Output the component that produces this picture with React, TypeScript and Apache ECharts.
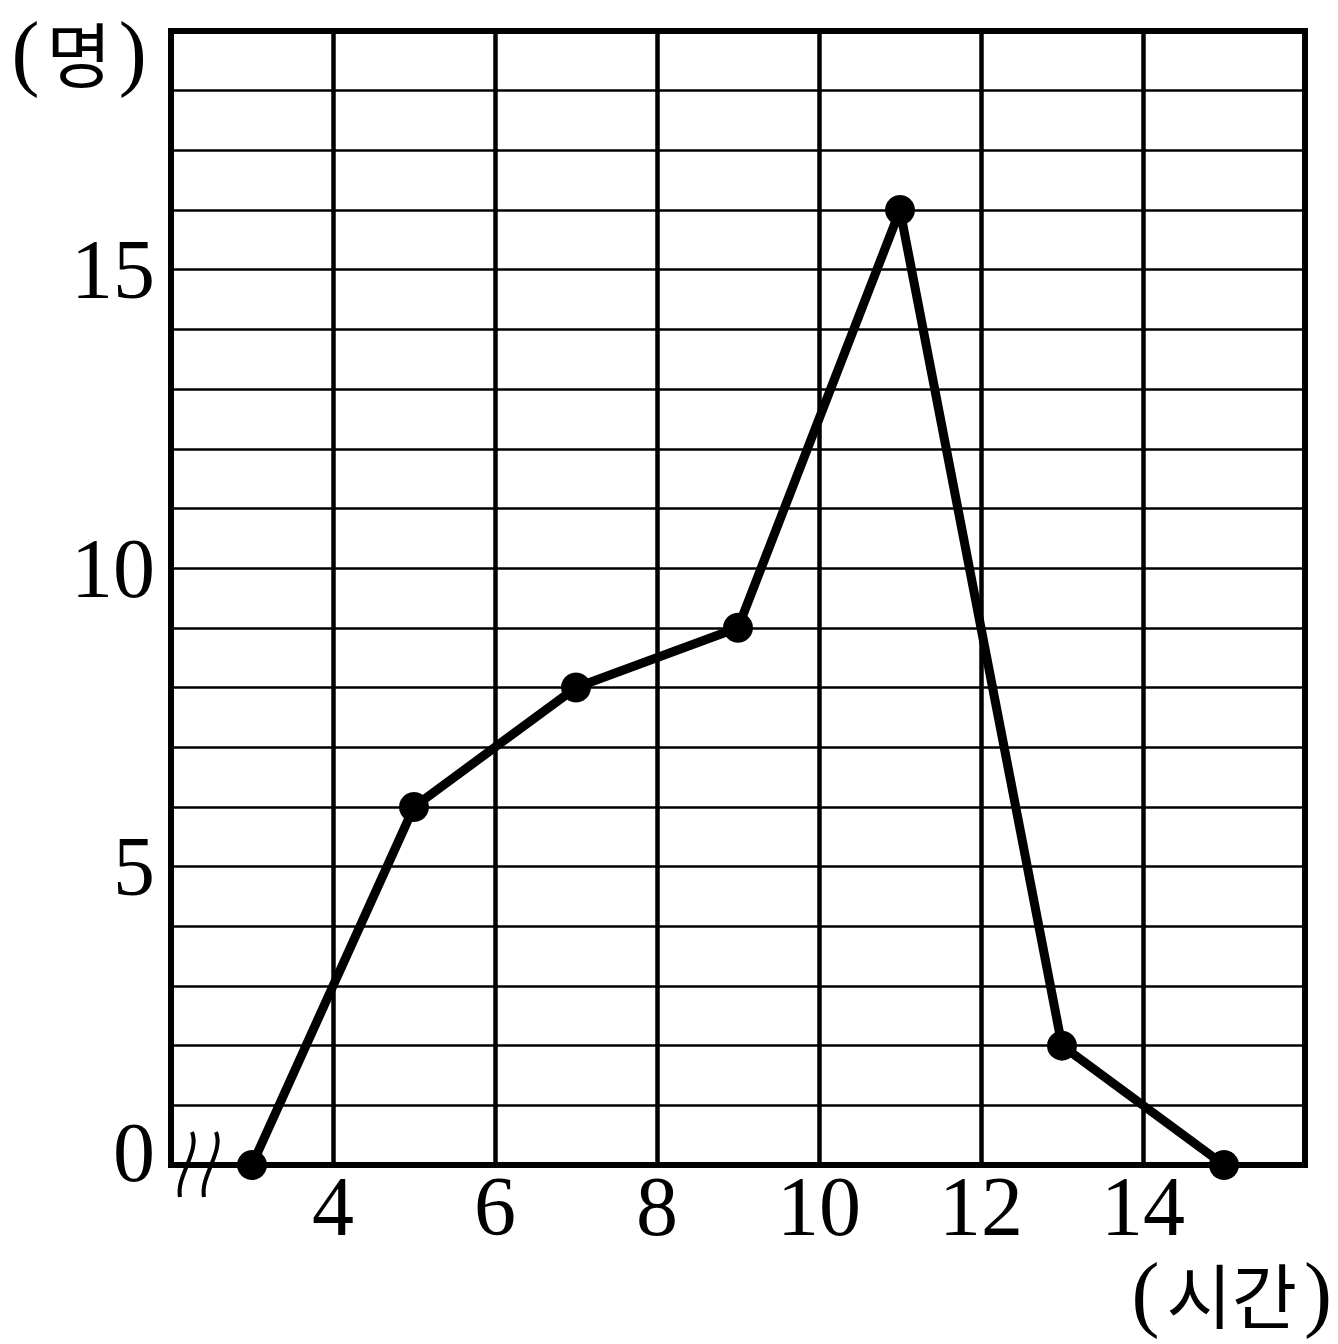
import React, { useEffect, useRef } from "react";
import * as echarts from "echarts";

const hours = [3, 5, 7, 9, 11, 13, 15];
const people = [0, 6, 8, 9, 16, 2, 0];
const xShownLabels = [4, 6, 8, 10, 12, 14];
const yShownLabels = [0, 5, 10, 15];
const yUnit = "명";
const xUnit = "시간";

export default function App() {
  const ref = useRef<HTMLDivElement>(null);
  useEffect(() => {
    document.body.style.margin = "0";
    const chart = echarts.init(ref.current!, null, { renderer: "svg" });
    const serif = "'Liberation Serif', 'DejaVu Serif', serif";
    const kr = "'Noto Sans CJK KR', sans-serif";
    const unitRich = {
      p: { fontSize: 84, fontFamily: serif, color: "#000", lineHeight: 76 },
      k: { fontSize: 71, fontFamily: kr, color: "#000", padding: [0, 7, 0, 7], lineHeight: 76 },
    };
    const wave = (x: number) => ({
      type: "bezierCurve",
      shape: {
        x1: x + 12, y1: 1132,
        cpx1: x + 20, cpy1: 1152,
        cpx2: x - 4, cpy2: 1176,
        x2: x, y2: 1197,
      },
      style: { stroke: "#000", lineWidth: 4, fill: "none" },
      z: 10,
    });
    chart.setOption({
      animation: false,
      backgroundColor: "#fff",
      grid: {
        left: 171,
        top: 31,
        width: 1134,
        height: 1134,
        show: true,
        borderColor: "#000",
        borderWidth: 6,
        backgroundColor: "transparent",
      },
      xAxis: {
        type: "value",
        min: 2,
        max: 16,
        interval: 2,
        axisLine: { show: false },
        axisTick: { show: false },
        splitLine: { show: true, lineStyle: { color: "#000", width: 4.5 } },
        axisLabel: {
          margin: 6,
          fontSize: 84,
          lineHeight: 70,
          fontFamily: serif,
          color: "#000",
          formatter: (v: number) => (xShownLabels.includes(v) ? String(v) : ""),
        },
      },
      yAxis: {
        type: "value",
        min: 0,
        max: 19,
        interval: 1,
        axisLine: { show: false },
        axisTick: { show: false },
        splitLine: { show: true, lineStyle: { color: "#000", width: 2.7 } },
        axisLabel: {
          margin: 16,
          fontSize: 84,
          lineHeight: 70,
          fontFamily: serif,
          color: "#000",
          formatter: (v: number) =>
            v === 0 ? "{z|0}" : yShownLabels.includes(v) ? String(v) : "",
          rich: {
            z: { fontSize: 84, lineHeight: 70, fontFamily: serif, color: "#000", padding: [0, 0, 26, 0] },
          },
        },
      },
      series: [
        {
          type: "line",
          data: hours.map((h, i) => [h, people[i]]),
          symbol: "circle",
          symbolSize: 30,
          lineStyle: { color: "#000", width: 9 },
          itemStyle: { color: "#000" },
          z: 5,
        },
      ],
      graphic: [
        {
          type: "text",
          x: 79,
          y: 51,
          style: {
            text: `{p|(}{k|${yUnit}}{p|)}`,
            rich: unitRich,
            align: "center",
            verticalAlign: "middle",
          },
        },
        {
          type: "text",
          x: 1332,
          y: 1292,
          style: {
            text: `{p|(}{k|${xUnit}}{p|)}`,
            rich: unitRich,
            align: "right",
            verticalAlign: "middle",
          },
        },
        wave(180),
        wave(204),
      ],
    });
    return () => chart.dispose();
  }, []);
  return <div ref={ref} style={{ width: 1338, height: 1344 }} />;
}
